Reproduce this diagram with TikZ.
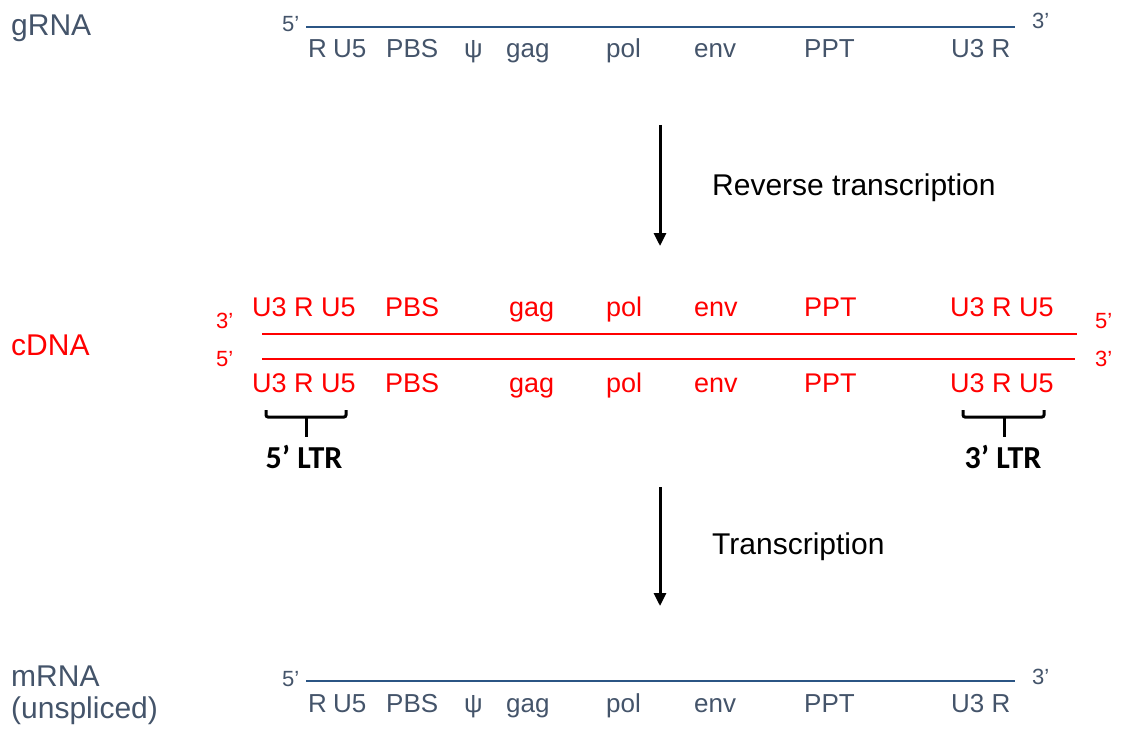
\documentclass[tikz,border=0pt]{standalone}
\usepackage{fontspec}
\setmainfont{Liberation Sans}
\newfontfamily\ltrfont{Carlito}
\usetikzlibrary{arrows.meta}
\definecolor{slate}{HTML}{44546A}
\definecolor{strand}{HTML}{2B5584}
\definecolor{dnared}{HTML}{FF0000}
\begin{document}
\begin{tikzpicture}[x=1pt,y=-1pt,
  txt/.style={inner sep=0pt, anchor=base west},
  big/.style={txt, font=\fontsize{30}{32}\selectfont},
  seg/.style={txt, font=\fontsize{26}{28}\selectfont},
  redseg/.style={txt, font=\fontsize{27}{29}\selectfont},
  endlbl/.style={txt, font=\fontsize{22}{24}\selectfont},
  ltr/.style={inner sep=0pt, anchor=base, font=\ltrfont\bfseries\fontsize{32}{34}\selectfont},
  rnaline/.style={strand, line width=2.5pt},
  dnaline/.style={dnared, line width=2pt},
  flow/.style={black, line width=3pt, -{Triangle[width=12pt,length=13pt]}},
  bracket/.style={black, line width=3pt, rounded corners=2pt}]
\useasboundingbox (0,0) rectangle (1124,733);

% ---- genomic RNA ----
\node[big, slate] (grna) at (11,36) {gRNA};
\coordinate (g5) at (306,27);
\coordinate (g3) at (1015,27);
\draw[rnaline] (g5) -- (g3);
\node[endlbl, slate] (g5l) at (282,32) {5’};
\node[endlbl, slate] (g3l) at (1032,29) {3’};
\foreach \x/\t/\n in {308/R/r, 333/U5/u, 386/PBS/pbs, 464/ψ/psi, 506/gag/gag,
                      606/pol/pol, 694/env/env, 804/PPT/ppt, 951/U3 R/ur}
  \node[seg, slate] (g-\n) at (\x,58) {\t};

% ---- reverse transcription ----
\coordinate (a1s) at (660,125);
\coordinate (a1e) at (660,246);
\draw[flow] (a1s) -- (a1e);
\node[big, black] (rt) at (712,195) {Reverse transcription};

% ---- cDNA double strand ----
\node[big, dnared] (cdna) at (11,355) {cDNA};
\coordinate (t5) at (262,334);
\coordinate (t3) at (1077,334);
\coordinate (b5) at (262,359);
\coordinate (b3) at (1075,359);
\draw[dnaline] (t5) -- (t3);
\draw[dnaline] (b5) -- (b3);
\node[endlbl, dnared] (tl) at (216,328) {3’};
\node[endlbl, dnared] (bl) at (216,366) {5’};
\node[endlbl, dnared] (tr) at (1095,328) {5’};
\node[endlbl, dnared] (br) at (1095,366) {3’};
\foreach \x/\t/\n in {252/U3 R U5/ltra, 385/PBS/pbs, 509/gag/gag, 606/pol/pol,
                      694/env/env, 804/PPT/ppt, 950/U3 R U5/ltrb} {
  \node[redseg, dnared] (t-\n) at (\x,316) {\t};
  \node[redseg, dnared] (b-\n) at (\x,392) {\t};
}

% ---- long terminal repeats ----
\coordinate (l1) at (266,410);
\coordinate (l2) at (266,417);
\coordinate (l3) at (346,417);
\coordinate (l4) at (346,410);
\coordinate (lm) at (306,417);
\coordinate (ls) at (306,437);
\draw[bracket] (l1) -- (l2) -- (l3) -- (l4);
\draw[bracket] (lm) -- (ls);
\node[ltr] (ltr5) at (304,468) {5’ LTR};

\coordinate (r1) at (963,410);
\coordinate (r2) at (963,417);
\coordinate (r3) at (1044,417);
\coordinate (r4) at (1044,410);
\coordinate (rm) at (1004,417);
\coordinate (rs) at (1004,437);
\draw[bracket] (r1) -- (r2) -- (r3) -- (r4);
\draw[bracket] (rm) -- (rs);
\node[ltr] (ltr3) at (1003,468) {3’ LTR};

% ---- transcription ----
\coordinate (a2s) at (660,487);
\coordinate (a2e) at (660,606);
\draw[flow] (a2s) -- (a2e);
\node[big, black] (tx) at (712,554) {Transcription};

% ---- unspliced mRNA ----
\node[big, slate] (mrna) at (11,686) {mRNA};
\node[big, slate] (unsp) at (11,718) {(unspliced)};
\coordinate (m5) at (306,681);
\coordinate (m3) at (1015,681);
\draw[rnaline] (m5) -- (m3);
\node[endlbl, slate] (m5l) at (282,686) {5’};
\node[endlbl, slate] (m3l) at (1032,684) {3’};
\foreach \x/\t/\n in {308/R/r, 333/U5/u, 386/PBS/pbs, 464/ψ/psi, 506/gag/gag,
                      606/pol/pol, 694/env/env, 804/PPT/ppt, 951/U3 R/ur}
  \node[seg, slate] (m-\n) at (\x,712) {\t};
\end{tikzpicture}
\end{document}
